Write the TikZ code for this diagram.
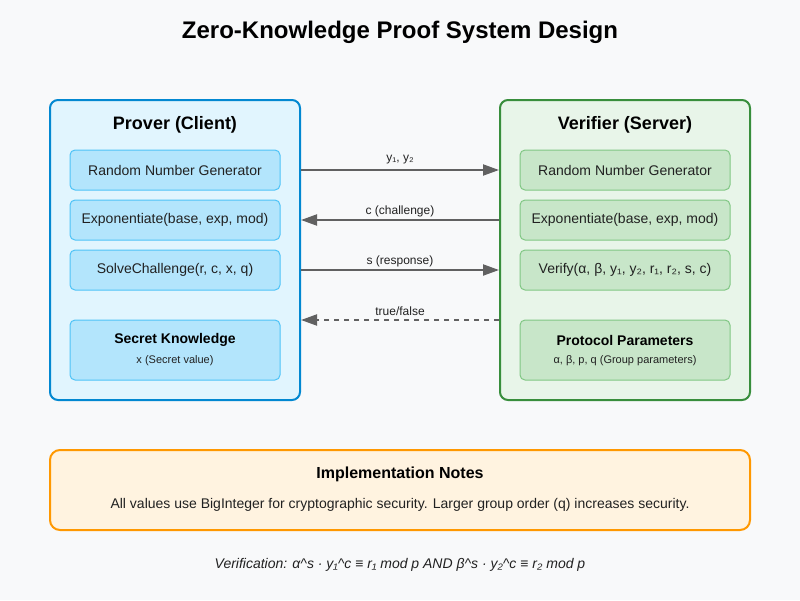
\documentclass[tikz,border=0pt]{standalone}
\usepackage{fontspec}
\setmainfont{Liberation Sans}
\usetikzlibrary{arrows.meta}
\definecolor{pagebg}{HTML}{F8F9FA}
\definecolor{proverfill}{HTML}{E1F5FE}
\definecolor{proverline}{HTML}{0288D1}
\definecolor{pboxfill}{HTML}{B3E5FC}
\definecolor{pboxline}{HTML}{4FC3F7}
\definecolor{verifill}{HTML}{E8F5E9}
\definecolor{veriline}{HTML}{388E3C}
\definecolor{vboxfill}{HTML}{C8E6C9}
\definecolor{vboxline}{HTML}{81C784}
\definecolor{notefill}{HTML}{FFF3E0}
\definecolor{noteline}{HTML}{FF9800}
\definecolor{msgline}{HTML}{616161}
\definecolor{txt}{HTML}{212121}
\tikzset{
  panel/.style={rounded corners=8pt, line width=2pt},
  prover/.style={panel, draw=proverline, fill=proverfill},
  verifier/.style={panel, draw=veriline, fill=verifill},
  pbox/.style={rounded corners=5pt, line width=1pt, draw=pboxline, fill=pboxfill},
  vbox/.style={rounded corners=5pt, line width=1pt, draw=vboxline, fill=vboxfill},
  note/.style={rounded corners=10pt, line width=2pt, draw=noteline, fill=notefill},
  boxtext/.style={font=\fontsize{14}{16}\selectfont, text=txt},
  heading/.style={font=\fontsize{18}{21}\selectfont\bfseries, text=black},
  subhead/.style={font=\fontsize{14}{16}\selectfont\bfseries, text=black},
  small/.style={font=\fontsize{11}{13}\selectfont, text=txt},
  msg/.style={line width=2pt, draw=msgline, -{Triangle[length=16pt,width=11pt]}},
  msglabel/.style={font=\fontsize{12}{14}\selectfont, text=txt},
}
\begin{document}
\begin{tikzpicture}[x=1pt, y=-1pt]
\fill[pagebg] (0,0) rectangle (800,600);
\useasboundingbox (0,0) rectangle (800,600);

\node[font=\fontsize{24}{28}\selectfont\bfseries] (title) at (400,32) {Zero-Knowledge Proof System Design};

% Prover side
\draw[prover] (50,100) rectangle (300,400);
\node[heading] (ptitle) at (175,125) {Prover (Client)};
\draw[pbox] (70,150) rectangle (280,190);
\node[boxtext] (prng) at (175,170) {Random Number Generator};
\draw[pbox] (70,200) rectangle (280,240);
\node[boxtext] (pexp) at (175,220) {Exponentiate(base, exp, mod)};
\draw[pbox] (70,250) rectangle (280,290);
\node[boxtext] (psolve) at (175,270) {SolveChallenge(r, c, x, q)};
\draw[pbox] (70,320) rectangle (280,380);
\node[subhead] (psecret) at (175,340) {Secret Knowledge};
\node[small] (psecretv) at (175,361) {x (Secret value)};

% Verifier side
\draw[verifier] (500,100) rectangle (750,400);
\node[heading] (vtitle) at (625,125) {Verifier (Server)};
\draw[vbox] (520,150) rectangle (730,190);
\node[boxtext] (vrng) at (625,170) {Random Number Generator};
\draw[vbox] (520,200) rectangle (730,240);
\node[boxtext] (vexp) at (625,220) {Exponentiate(base, exp, mod)};
\draw[vbox] (520,250) rectangle (730,290);
\node[boxtext] (vverify) at (625,270) {Verify(α, β, y₁, y₂, r₁, r₂, s, c)};
\draw[vbox] (520,320) rectangle (730,380);
\node[subhead] (vparams) at (625,340) {Protocol Parameters};
\node[small] (vparamsv) at (625,361) {α, β, p, q (Group parameters)};

% Message flow between the two parties
\coordinate (pe1) at (301,170); \coordinate (ve1) at (499,170);
\coordinate (pe2) at (301,220); \coordinate (ve2) at (499,220);
\coordinate (pe3) at (301,270); \coordinate (ve3) at (499,270);
\coordinate (pe4) at (301,320); \coordinate (ve4) at (499,320);
\draw[msg] (pe1) -- (ve1);
\node[msglabel] (m1) at (400,160) {y₁, y₂};
\draw[msg] (ve2) -- (pe2);
\node[msglabel] (m2) at (400,211) {c (challenge)};
\draw[msg] (pe3) -- (ve3);
\node[msglabel] (m3) at (400,261) {s (response)};
\draw[msg, dash pattern=on 5pt off 5pt] (ve4) -- (pe4);
\node[msglabel] (m4) at (400,311) {true/false};

% Notes
\draw[note] (50,450) rectangle (750,530);
\node[font=\fontsize{16}{19}\selectfont\bfseries] (ntitle) at (400,474) {Implementation Notes};
\node[boxtext] (ntext) at (400,505) {All values use BigInteger for cryptographic security. Larger group order (q) increases security.};

\node[font=\fontsize{14}{16}\selectfont\itshape, text=txt] (formula) at (400,565) {Verification: α\^{}s · y₁\^{}c ≡ r₁ mod p AND β\^{}s · y₂\^{}c ≡ r₂ mod p};
\end{tikzpicture}
\end{document}
